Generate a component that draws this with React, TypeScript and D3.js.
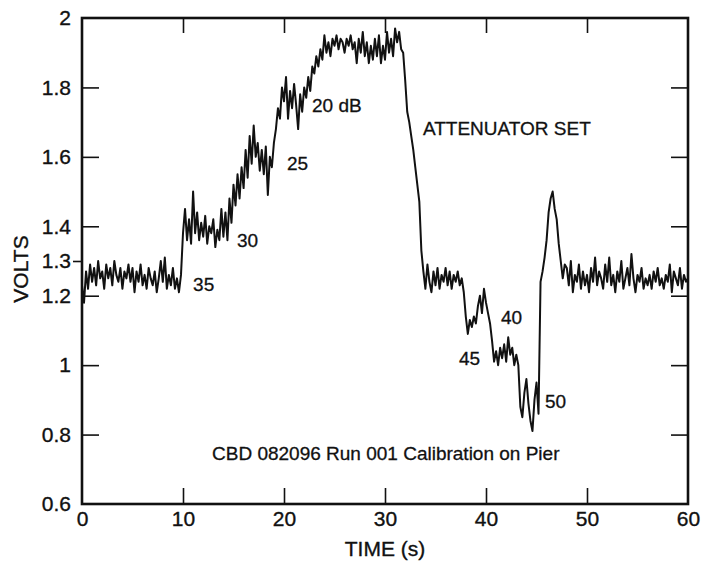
// Attenuator calibration trace (volts vs time) drawn with D3
import { select, scaleLinear, line, axisLeft, axisBottom, axisTop, axisRight } from 'd3';
import { useEffect, useRef } from 'react';

// one reading every 0.2 s, one row per second
const SAMPLE_STEP = 0.2;
const volts: number[] = [
  1.23, 1.18, 1.27, 1.22, 1.29, // 0
  1.24, 1.28, 1.23, 1.30, 1.25,
  1.27, 1.22, 1.29, 1.25, 1.28,
  1.23, 1.30, 1.26, 1.24, 1.28,
  1.22, 1.27, 1.25, 1.29, 1.24,
  1.28, 1.21, 1.27, 1.24, 1.29, // 5
  1.23, 1.26, 1.22, 1.28, 1.25,
  1.23, 1.27, 1.21, 1.25, 1.30,
  1.24, 1.31, 1.22, 1.26, 1.23,
  1.28, 1.22, 1.25, 1.21, 1.26,
  1.38, 1.45, 1.36, 1.42, 1.35, // 10
  1.50, 1.38, 1.44, 1.36, 1.41,
  1.37, 1.43, 1.35, 1.40, 1.38,
  1.42, 1.34, 1.39, 1.36, 1.45,
  1.37, 1.44, 1.36, 1.48, 1.41,
  1.52, 1.46, 1.55, 1.48, 1.57, // 15
  1.51, 1.62, 1.54, 1.66, 1.58,
  1.69, 1.60, 1.64, 1.56, 1.62,
  1.55, 1.63, 1.49, 1.60, 1.57,
  1.64, 1.68, 1.74, 1.71, 1.80,
  1.76, 1.83, 1.71, 1.79, 1.74, // 20
  1.81, 1.75, 1.68, 1.78, 1.73,
  1.80, 1.77, 1.83, 1.79, 1.86,
  1.84, 1.89, 1.86, 1.91, 1.88,
  1.95, 1.90, 1.93, 1.89, 1.94,
  1.92, 1.95, 1.91, 1.94, 1.93, // 25
  1.90, 1.94, 1.92, 1.95, 1.91,
  1.93, 1.87, 1.94, 1.90, 1.96,
  1.89, 1.93, 1.87, 1.92, 1.88,
  1.94, 1.89, 1.95, 1.87, 1.92,
  1.88, 1.96, 1.90, 1.94, 1.89, // 30
  1.97, 1.93, 1.96, 1.91, 1.90,
  1.82, 1.73, 1.70, 1.66, 1.62,
  1.57, 1.52, 1.47, 1.33, 1.27,
  1.22, 1.29, 1.24, 1.21, 1.27,
  1.23, 1.28, 1.22, 1.26, 1.24, // 35
  1.28, 1.23, 1.27, 1.22, 1.26,
  1.24, 1.27, 1.23, 1.25, 1.21,
  1.14, 1.09, 1.13, 1.11, 1.14,
  1.12, 1.17, 1.20, 1.15, 1.22,
  1.18, 1.15, 1.12, 1.07, 1.01, // 40
  1.04, 1.00, 1.05, 1.02, 1.06,
  1.01, 1.08, 1.03, 1.05, 1.00,
  1.03, 1.00, 0.88, 0.85, 0.92,
  0.96, 0.89, 0.84, 0.81, 0.90,
  0.95, 0.86, 1.24, 1.27, 1.31, // 45
  1.36, 1.44, 1.48, 1.50, 1.45,
  1.42, 1.35, 1.30, 1.25, 1.29,
  1.28, 1.23, 1.30, 1.21, 1.26,
  1.24, 1.29, 1.22, 1.27, 1.23,
  1.26, 1.21, 1.28, 1.24, 1.31, // 50
  1.23, 1.27, 1.25, 1.22, 1.29,
  1.24, 1.31, 1.23, 1.26, 1.21,
  1.27, 1.24, 1.30, 1.22, 1.25,
  1.28, 1.23, 1.32, 1.25, 1.21,
  1.26, 1.24, 1.28, 1.22, 1.25, // 55
  1.23, 1.26, 1.22, 1.27, 1.24,
  1.28, 1.23, 1.25, 1.22, 1.26,
  1.24, 1.29, 1.21, 1.27, 1.25,
  1.23, 1.28, 1.22, 1.26, 1.24,
  1.25, // 60
];

const xTicks = [0, 10, 20, 30, 40, 50, 60];
const xInnerTicks = [10, 20, 30, 40, 50];
const yTicks = [0.6, 0.8, 1, 1.2, 1.3, 1.4, 1.6, 1.8, 2];
const yInnerTicks = [0.8, 1, 1.2, 1.4, 1.6, 1.8];

// attenuator settings written next to the trace, anchored in data units
const noteTexts = ['35', '30', '25', '20 dB', 'ATTENUATOR SET', '45', '40', '50', 'CBD 082096 Run 001 Calibration on Pier'];
const noteTimes = [11.0, 15.35, 20.3, 22.77, 33.76, 37.33, 41.49, 45.84, 12.87];
const noteVolts = [1.214, 1.34, 1.562, 1.729, 1.663, 1.0, 1.118, 0.877, 0.727];

const FONT = '"Liberation Sans", Arial, Helvetica, sans-serif';

export default function App() {
  const svgRef = useRef<SVGSVGElement | null>(null);

  useEffect(() => {
    if (!svgRef.current) return;
    const svg = select(svgRef.current);
    svg.selectAll('*').remove();

    const left = 82, right = 688, top = 18, bottom = 504;
    const x = scaleLinear().domain([0, 60]).range([left, right]);
    const y = scaleLinear().domain([0.6, 2]).range([bottom, top]);

    // inner tick marks on all four sides
    const tickStyle = (g: any) => {
      g.select('.domain').remove();
      g.selectAll('line').attr('stroke', '#111').attr('stroke-width', 1.6);
      g.selectAll('text').attr('font-family', FONT).attr('fill', '#111')
        .attr('stroke', '#111').attr('stroke-width', 0.35);
    };

    svg.append('g')
      .attr('transform', `translate(${left},0)`)
      .call(axisLeft(y).tickValues(yTicks).tickSizeInner(-17).tickSizeOuter(0).tickPadding(11)
        .tickFormat((d: any) => String(d)))
      .call(tickStyle)
      .call((g: any) => g.selectAll('.tick').filter((d: number) => d === 1.3).select('line').attr('x2', -9))
      .call((g: any) => g.selectAll('.tick').filter((d: number) => d === 0.6 || d === 2).select('line').remove())
      .call((g: any) => g.selectAll('text').attr('font-size', 21));

    svg.append('g')
      .attr('transform', `translate(${right},0)`)
      .call(axisRight(y).tickValues(yInnerTicks).tickSizeInner(-17).tickSizeOuter(0).tickFormat(() => ''))
      .call(tickStyle);

    svg.append('g')
      .attr('transform', `translate(0,${bottom})`)
      .call(axisBottom(x).tickValues(xTicks).tickSizeInner(-16).tickSizeOuter(0).tickPadding(7))
      .call(tickStyle)
      .call((g: any) => g.selectAll('.tick').filter((d: number) => !xInnerTicks.includes(d)).select('line').remove())
      .call((g: any) => g.selectAll('text').attr('font-size', 21).attr('dy', '0.72em'));

    svg.append('g')
      .attr('transform', `translate(0,${top})`)
      .call(axisTop(x).tickValues(xInnerTicks).tickSizeInner(-15).tickSizeOuter(0).tickFormat(() => ''))
      .call(tickStyle);

    // frame
    svg.append('rect')
      .attr('x', left).attr('y', top)
      .attr('width', right - left).attr('height', bottom - top)
      .attr('fill', 'none').attr('stroke', '#111').attr('stroke-width', 2.6);

    // trace
    const trace = line<number>()
      .x((_d, i) => x(i * SAMPLE_STEP))
      .y((d) => y(d));

    svg.append('path')
      .datum(volts)
      .attr('d', trace)
      .attr('fill', 'none')
      .attr('stroke', '#111')
      .attr('stroke-width', 2)
      .attr('stroke-linejoin', 'round');

    // annotations
    svg.append('g')
      .selectAll('text')
      .data(noteTexts)
      .enter()
      .append('text')
      .attr('x', (_d: string, i: number) => x(noteTimes[i]))
      .attr('y', (_d: string, i: number) => y(noteVolts[i]))
      .attr('font-family', FONT)
      .attr('font-size', 19)
      .attr('fill', '#111')
      .attr('stroke', '#111')
      .attr('stroke-width', 0.3)
      .text((d: string) => d);

    // axis titles
    svg.append('text')
      .attr('transform', `translate(28,${y(1.3) + 8}) rotate(-90)`)
      .attr('text-anchor', 'middle')
      .attr('font-family', FONT)
      .attr('font-size', 21)
      .attr('fill', '#111')
      .attr('stroke', '#111')
      .attr('stroke-width', 0.35)
      .text('VOLTS');

    svg.append('text')
      .attr('x', x(30))
      .attr('y', 556)
      .attr('text-anchor', 'middle')
      .attr('font-family', FONT)
      .attr('font-size', 21)
      .attr('fill', '#111')
      .attr('stroke', '#111')
      .attr('stroke-width', 0.35)
      .text('TIME (s)');
  }, []);

  return (
    <svg
      ref={svgRef}
      width={702}
      height={564}
      style={{ position: 'absolute', left: 0, top: 0, background: '#fff' }}
    />
  );
}
